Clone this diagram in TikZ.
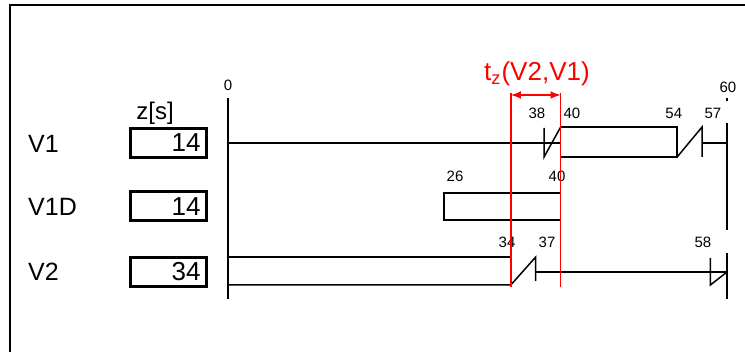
\documentclass[tikz,border=0pt]{standalone}
\usepackage{fontspec}
\setmainfont{Liberation Sans}
\tikzset{
  tacca/.style={font=\fontsize{7.5}{8}\selectfont,inner sep=0pt},
  riga/.style={font=\fontsize{12.5}{13}\selectfont,inner sep=0pt,anchor=west},
  casella/.style={draw,line width=1.5pt,minimum width=38pt,minimum height=14.5pt,
    text width=32pt,inner xsep=3pt,inner ysep=0pt,align=right,
    font=\fontsize{13}{14}\selectfont}
}
\begin{document}
\begin{tikzpicture}[x=0.5pt,y=-0.5pt,line width=0.75pt]
   \useasboundingbox (0,0) rectangle (745,352);
% cornice
   \draw[line width=1pt] (9.5,352) -- (9.5,5.5) -- (745,5.5);
% nomi e caselle z[s]
   \node[riga] (nV1) at (27.5,144) {V1};
   \node[riga] (nV1D) at (27.5,207) {V1D};
   \node[riga] (nV2) at (27.5,272) {V2};
   \node[font=\fontsize{12}{13}\selectfont,inner sep=0pt] (zs) at (155,113) {z[s]};
   \node[casella] (zV1) at (168.5,143) {14};
   \node[casella] (zV1D) at (168.5,206.5) {14};
   \node[casella] (zV2) at (168.5,272) {34};
\begin{scope}[xshift=114pt,x=4.1585pt]
% assi dei tempi
   \draw (0,98) -- (0,299); \node[tacca] (t0) at (0,85) {0};
   \draw (60,123) -- (60,230); \draw (60,253) -- (60,299);
   \draw (60,98.5) -- (60,101.5); \node[tacca] (t60) at (60.1,87) {60};
% V1
   \draw (0,143) -- (40,143); \draw (38,128) -- (38,157) -- (40,127);
   \draw (40,127) rectangle (54,157); \draw (54,157) -- (57,127) --
   (57,157); \draw (57,143) -- (60,143);
   \node[tacca] (t38) at (37.15,113) {38};
   \node[tacca] (t40a) at (41.36,113) {40};
   \node[tacca] (t54) at (53.6,113) {54};
   \node[tacca] (t57) at (58.3,113) {57};
% V1D
   \draw (26,193) rectangle (40,220);
   \node[tacca] (t26) at (27.3,176) {26};
   \node[tacca] (t40b) at (39.56,176) {40};
% V2
   \draw (0,257) -- (34,257); \draw (0,285) -- (34,285) --
   (37,257) -- (37,281); \draw (37,272) -- (60,272);
   \draw (58,258) -- (58,285) -- (60,272);
   \node[tacca] (t34) at (33.55,242) {34};
   \node[tacca] (t37) at (38.36,242) {37};
   \node[tacca] (t58) at (57.1,242) {58};
% intervallo t_z
   \draw[red] (34,93) -- (34,287); \draw[red] (40,93) -- (40,287);
   \draw[red,<->,>=latex] (34,95) -- (40,95);
   \node[red,font=\fontsize{13}{14}\selectfont,inner sep=0pt] (tz) at
   (37.15,74) {t\textsubscript{z}(V2,V1)};
\end{scope}
\end{tikzpicture}
\end{document}
